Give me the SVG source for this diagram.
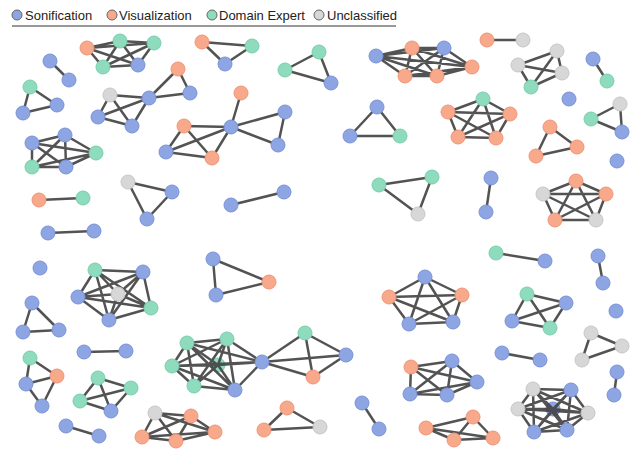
<svg xmlns="http://www.w3.org/2000/svg" width="633" height="452" viewBox="0 0 633 452">
<style>
.s{fill:#8da5e3;stroke:#7a93d6;stroke-width:1}
.v{fill:#f9a98b;stroke:#ee9677;stroke-width:1}
.d{fill:#8edbbd;stroke:#78cfae;stroke-width:1}
.u{fill:#d7d7d7;stroke:#c6c6c6;stroke-width:1}
.e{stroke:#444;stroke-width:2.5;fill:none;stroke-opacity:0.92}
.lg circle{stroke:#666;stroke-width:1}
.lg text{font-family:"Liberation Sans",Arial,sans-serif;font-size:13px;fill:#222}
</style>
<g id="legend" class="lg">
<circle cx="17" cy="15" r="5" class="s" style="stroke:#666"/>
<text x="25" y="20">Sonification</text>
<circle cx="112" cy="15" r="5" class="v" style="stroke:#666"/>
<text x="119" y="20">Visualization</text>
<circle cx="212" cy="15" r="5" class="d" style="stroke:#666"/>
<text x="219" y="20">Domain Expert</text>
<circle cx="319" cy="15" r="5" class="u" style="stroke:#666"/>
<text x="327" y="20">Unclassified</text>
<line x1="12" y1="26" x2="396" y2="26" stroke="#999" stroke-width="2"/>
</g>
<g id="n-back1"><circle class="s" cx="553" cy="409" r="7"/></g>
<g id="n-back2"><circle class="d" cx="218" cy="365" r="7"/></g>
<g id="connectors" class="e">
<path d="M87 48L120 41M87 48L154 43M87 48L103 67M87 48L138 65M120 41L154 43M120 41L103 67M120 41L138 65M154 43L103 67M154 43L138 65M103 67L138 65"/>
<path d="M50 61L69 80"/>
<path d="M30 87L57 105M30 87L23 113M23 113L57 105"/>
<path d="M110 95L149 98M110 95L98 117M110 95L132 126M98 117L149 98M98 117L132 126M132 126L149 98M149 98L178 69M149 98L190 93M178 69L190 93"/>
<path d="M202 42L252 46M202 42L225 64M225 64L252 46"/>
<path d="M285 70L319 52M285 70L331 83M319 52L331 83"/>
<path d="M231 127L241 93M231 127L184 126M231 127L285 112M231 127L278 145M285 112L278 145M231 127L166 152M231 127L212 158M184 126L166 152M184 126L212 158M166 152L212 158"/>
<path d="M376 56L412 48M376 56L444 48M376 56L405 76M376 56L437 76M376 56L472 67M412 48L444 48M412 48L405 76M412 48L437 76M412 48L472 67M444 48L405 76M444 48L437 76M444 48L472 67M405 76L437 76M405 76L472 67M437 76L472 67"/>
<path d="M487 40L523 40"/>
<path d="M518 65L557 51M518 65L562 73M518 65L531 87M557 51L562 73M557 51L531 87M562 73L531 87"/>
<path d="M593 59L607 81"/>
<path d="M591 119L620 104M591 119L622 132M620 104L622 132"/>
<path d="M377 107L350 136M377 107L400 136M350 136L400 136"/>
<path d="M483 99L448 112M483 99L510 114M483 99L458 137M483 99L496 138M448 112L510 114M448 112L458 137M448 112L496 138M510 114L458 137M510 114L496 138M458 137L496 138"/>
<path d="M550 127L536 156M550 127L577 147M536 156L577 147"/>
<path d="M32 143L65 135M32 143L96 153M32 143L32 167M32 143L66 167M65 135L96 153M65 135L32 167M65 135L66 167M96 153L32 167M96 153L66 167M32 167L66 167"/>
<path d="M39 200L83 198"/>
<path d="M48 233L94 231"/>
<path d="M128 182L172 192M128 182L147 219M147 219L172 192"/>
<path d="M231 205L284 192"/>
<path d="M379 185L432 177M379 185L418 214M432 177L418 214"/>
<path d="M491 178L486 212"/>
<path d="M576 181L543 194M576 181L606 194M576 181L555 220M576 181L596 220M543 194L606 194M543 194L555 220M543 194L596 220M606 194L555 220M606 194L596 220M555 220L596 220"/>
<path d="M496 253L545 261"/>
<path d="M598 256L603 283"/>
<path d="M213 259L269 282M213 259L216 295M216 295L269 282"/>
<path d="M95 270L143 272M95 270L78 297M95 270L118 294M95 270L109 320M95 270L151 308M143 272L78 297M143 272L118 294M143 272L109 320M143 272L151 308M78 297L118 294M78 297L109 320M78 297L151 308M118 294L109 320M118 294L151 308M109 320L151 308"/>
<path d="M32 303L23 332M32 303L59 330M23 332L59 330"/>
<path d="M84 352L126 351"/>
<path d="M30 358L57 376M30 358L26 384M26 384L57 376M26 384L42 406M42 406L57 376"/>
<path d="M98 378L131 388M98 378L80 401M98 378L111 411M131 388L80 401M131 388L111 411M80 401L111 411"/>
<path d="M66 426L99 436"/>
<path d="M187 343L227 339M187 343L172 366M187 343L218 365M187 343L194 386M187 343L235 390M227 339L172 366M227 339L218 365M227 339L194 386M227 339L235 390M172 366L218 365M172 366L194 386M172 366L235 390M218 365L194 386M218 365L235 390M194 386L235 390M262 362L187 343M262 362L227 339M262 362L172 366M262 362L218 365M262 362L235 390"/>
<path d="M262 362L305 333M262 362L313 377M262 362L346 355M305 333L313 377M305 333L346 355M313 377L346 355"/>
<path d="M155 413L191 416M155 413L142 437M155 413L176 441M155 413L215 432M191 416L142 437M191 416L176 441M191 416L215 432M142 437L176 441M142 437L215 432M176 441L215 432"/>
<path d="M287 408L264 430M287 408L320 427M264 430L320 427"/>
<path d="M362 403L379 429"/>
<path d="M425 277L389 297M425 277L462 295M425 277L409 324M425 277L453 322M389 297L462 295M389 297L409 324M389 297L453 322M462 295L409 324M462 295L453 322M409 324L453 322"/>
<path d="M411 367L452 361M411 367L477 382M411 367L410 394M411 367L447 395M452 361L477 382M452 361L410 394M452 361L447 395M477 382L410 394M477 382L447 395M410 394L447 395"/>
<path d="M426 428L473 417M426 428L454 440M426 428L493 438M473 417L454 440M473 417L493 438M454 440L493 438"/>
<path d="M527 294L566 303M527 294L512 321M527 294L550 328M566 303L512 321M566 303L550 328M512 321L550 328"/>
<path d="M502 353L540 360"/>
<path d="M591 333L622 346M591 333L582 360M622 346L582 360"/>
<path d="M617 372L614 395"/>
<path d="M533 389L571 390M533 389L518 409M533 389L553 409M533 389L588 413M533 389L534 432M533 389L567 430M571 390L518 409M571 390L553 409M571 390L588 413M571 390L534 432M571 390L567 430M518 409L553 409M518 409L588 413M518 409L534 432M518 409L567 430M553 409L588 413M553 409L534 432M553 409L567 430M588 413L534 432M588 413L567 430M534 432L567 430"/>
</g>
<g id="n1"><circle class="v" cx="87" cy="48" r="7"/></g>
<g id="n2"><circle class="d" cx="120" cy="41" r="7"/></g>
<g id="n3"><circle class="d" cx="154" cy="43" r="7"/></g>
<g id="n4"><circle class="d" cx="103" cy="67" r="7"/></g>
<g id="n5"><circle class="s" cx="138" cy="65" r="7"/></g>
<g id="n6"><circle class="s" cx="50" cy="61" r="7"/></g>
<g id="n7"><circle class="s" cx="69" cy="80" r="7"/></g>
<g id="n8"><circle class="d" cx="30" cy="87" r="7"/></g>
<g id="n9"><circle class="s" cx="57" cy="105" r="7"/></g>
<g id="n10"><circle class="s" cx="23" cy="113" r="7"/></g>
<g id="n11"><circle class="u" cx="110" cy="95" r="7"/></g>
<g id="n12"><circle class="s" cx="149" cy="98" r="7"/></g>
<g id="n13"><circle class="s" cx="98" cy="117" r="7"/></g>
<g id="n14"><circle class="s" cx="132" cy="126" r="7"/></g>
<g id="n15"><circle class="v" cx="178" cy="69" r="7"/></g>
<g id="n16"><circle class="s" cx="190" cy="93" r="7"/></g>
<g id="n17"><circle class="v" cx="202" cy="42" r="7"/></g>
<g id="n18"><circle class="d" cx="252" cy="46" r="7"/></g>
<g id="n19"><circle class="s" cx="225" cy="64" r="7"/></g>
<g id="n20"><circle class="d" cx="285" cy="70" r="7"/></g>
<g id="n21"><circle class="d" cx="319" cy="52" r="7"/></g>
<g id="n22"><circle class="s" cx="331" cy="83" r="7"/></g>
<g id="n23"><circle class="s" cx="231" cy="127" r="7"/></g>
<g id="n24"><circle class="v" cx="241" cy="93" r="7"/></g>
<g id="n25"><circle class="v" cx="184" cy="126" r="7"/></g>
<g id="n26"><circle class="s" cx="166" cy="152" r="7"/></g>
<g id="n27"><circle class="v" cx="212" cy="158" r="7"/></g>
<g id="n28"><circle class="s" cx="285" cy="112" r="7"/></g>
<g id="n29"><circle class="s" cx="278" cy="145" r="7"/></g>
<g id="n30"><circle class="s" cx="376" cy="56" r="7"/></g>
<g id="n31"><circle class="v" cx="412" cy="48" r="7"/></g>
<g id="n32"><circle class="s" cx="444" cy="48" r="7"/></g>
<g id="n33"><circle class="v" cx="405" cy="76" r="7"/></g>
<g id="n34"><circle class="v" cx="437" cy="76" r="7"/></g>
<g id="n35"><circle class="v" cx="472" cy="67" r="7"/></g>
<g id="n36"><circle class="v" cx="487" cy="40" r="7"/></g>
<g id="n37"><circle class="u" cx="523" cy="40" r="7"/></g>
<g id="n38"><circle class="u" cx="518" cy="65" r="7"/></g>
<g id="n39"><circle class="u" cx="557" cy="51" r="7"/></g>
<g id="n40"><circle class="u" cx="562" cy="73" r="7"/></g>
<g id="n41"><circle class="d" cx="531" cy="87" r="7"/></g>
<g id="n42"><circle class="s" cx="593" cy="59" r="7"/></g>
<g id="n43"><circle class="d" cx="607" cy="81" r="7"/></g>
<g id="n44"><circle class="s" cx="569" cy="99" r="7"/></g>
<g id="n45"><circle class="d" cx="591" cy="119" r="7"/></g>
<g id="n46"><circle class="u" cx="620" cy="104" r="7"/></g>
<g id="n47"><circle class="s" cx="622" cy="132" r="7"/></g>
<g id="n48"><circle class="s" cx="377" cy="107" r="7"/></g>
<g id="n49"><circle class="s" cx="350" cy="136" r="7"/></g>
<g id="n50"><circle class="d" cx="400" cy="136" r="7"/></g>
<g id="n51"><circle class="d" cx="483" cy="99" r="7"/></g>
<g id="n52"><circle class="v" cx="448" cy="112" r="7"/></g>
<g id="n53"><circle class="v" cx="510" cy="114" r="7"/></g>
<g id="n54"><circle class="v" cx="458" cy="137" r="7"/></g>
<g id="n55"><circle class="v" cx="496" cy="138" r="7"/></g>
<g id="n56"><circle class="v" cx="550" cy="127" r="7"/></g>
<g id="n57"><circle class="v" cx="536" cy="156" r="7"/></g>
<g id="n58"><circle class="v" cx="577" cy="147" r="7"/></g>
<g id="n59"><circle class="s" cx="617" cy="161" r="7"/></g>
<g id="n60"><circle class="s" cx="32" cy="143" r="7"/></g>
<g id="n61"><circle class="s" cx="65" cy="135" r="7"/></g>
<g id="n62"><circle class="d" cx="96" cy="153" r="7"/></g>
<g id="n63"><circle class="d" cx="32" cy="167" r="7"/></g>
<g id="n64"><circle class="s" cx="66" cy="167" r="7"/></g>
<g id="n65"><circle class="v" cx="39" cy="200" r="7"/></g>
<g id="n66"><circle class="d" cx="83" cy="198" r="7"/></g>
<g id="n67"><circle class="s" cx="48" cy="233" r="7"/></g>
<g id="n68"><circle class="s" cx="94" cy="231" r="7"/></g>
<g id="n69"><circle class="s" cx="40" cy="268" r="7"/></g>
<g id="n70"><circle class="u" cx="128" cy="182" r="7"/></g>
<g id="n71"><circle class="s" cx="172" cy="192" r="7"/></g>
<g id="n72"><circle class="s" cx="147" cy="219" r="7"/></g>
<g id="n73"><circle class="s" cx="231" cy="205" r="7"/></g>
<g id="n74"><circle class="s" cx="284" cy="192" r="7"/></g>
<g id="n75"><circle class="d" cx="379" cy="185" r="7"/></g>
<g id="n76"><circle class="d" cx="432" cy="177" r="7"/></g>
<g id="n77"><circle class="u" cx="418" cy="214" r="7"/></g>
<g id="n78"><circle class="s" cx="491" cy="178" r="7"/></g>
<g id="n79"><circle class="s" cx="486" cy="212" r="7"/></g>
<g id="n80"><circle class="v" cx="576" cy="181" r="7"/></g>
<g id="n81"><circle class="u" cx="543" cy="194" r="7"/></g>
<g id="n82"><circle class="v" cx="606" cy="194" r="7"/></g>
<g id="n83"><circle class="v" cx="555" cy="220" r="7"/></g>
<g id="n84"><circle class="u" cx="596" cy="220" r="7"/></g>
<g id="n85"><circle class="d" cx="496" cy="253" r="7"/></g>
<g id="n86"><circle class="s" cx="545" cy="261" r="7"/></g>
<g id="n87"><circle class="s" cx="598" cy="256" r="7"/></g>
<g id="n88"><circle class="s" cx="603" cy="283" r="7"/></g>
<g id="n89"><circle class="s" cx="616" cy="311" r="7"/></g>
<g id="n90"><circle class="s" cx="213" cy="259" r="7"/></g>
<g id="n91"><circle class="v" cx="269" cy="282" r="7"/></g>
<g id="n92"><circle class="s" cx="216" cy="295" r="7"/></g>
<g id="n93"><circle class="d" cx="95" cy="270" r="7"/></g>
<g id="n94"><circle class="s" cx="143" cy="272" r="7"/></g>
<g id="n95"><circle class="s" cx="78" cy="297" r="7"/></g>
<g id="n96"><circle class="u" cx="118" cy="294" r="7"/></g>
<g id="n97"><circle class="s" cx="109" cy="320" r="7"/></g>
<g id="n98"><circle class="d" cx="151" cy="308" r="7"/></g>
<g id="n99"><circle class="s" cx="32" cy="303" r="7"/></g>
<g id="n100"><circle class="s" cx="23" cy="332" r="7"/></g>
<g id="n101"><circle class="s" cx="59" cy="330" r="7"/></g>
<g id="n102"><circle class="s" cx="84" cy="352" r="7"/></g>
<g id="n103"><circle class="s" cx="126" cy="351" r="7"/></g>
<g id="n104"><circle class="d" cx="30" cy="358" r="7"/></g>
<g id="n105"><circle class="v" cx="57" cy="376" r="7"/></g>
<g id="n106"><circle class="s" cx="26" cy="384" r="7"/></g>
<g id="n107"><circle class="s" cx="42" cy="406" r="7"/></g>
<g id="n108"><circle class="d" cx="98" cy="378" r="7"/></g>
<g id="n109"><circle class="d" cx="131" cy="388" r="7"/></g>
<g id="n110"><circle class="d" cx="80" cy="401" r="7"/></g>
<g id="n111"><circle class="s" cx="111" cy="411" r="7"/></g>
<g id="n112"><circle class="s" cx="66" cy="426" r="7"/></g>
<g id="n113"><circle class="s" cx="99" cy="436" r="7"/></g>
<g id="n114"><circle class="d" cx="187" cy="343" r="7"/></g>
<g id="n115"><circle class="d" cx="227" cy="339" r="7"/></g>
<g id="n116"><circle class="d" cx="172" cy="366" r="7"/></g>
<g id="n117"><circle class="d" cx="194" cy="386" r="7"/></g>
<g id="n118"><circle class="s" cx="235" cy="390" r="7"/></g>
<g id="n119"><circle class="s" cx="262" cy="362" r="7"/></g>
<g id="n120"><circle class="d" cx="305" cy="333" r="7"/></g>
<g id="n121"><circle class="v" cx="313" cy="377" r="7"/></g>
<g id="n122"><circle class="s" cx="346" cy="355" r="7"/></g>
<g id="n123"><circle class="u" cx="155" cy="413" r="7"/></g>
<g id="n124"><circle class="v" cx="191" cy="416" r="7"/></g>
<g id="n125"><circle class="v" cx="142" cy="437" r="7"/></g>
<g id="n126"><circle class="v" cx="176" cy="441" r="7"/></g>
<g id="n127"><circle class="v" cx="215" cy="432" r="7"/></g>
<g id="n128"><circle class="v" cx="287" cy="408" r="7"/></g>
<g id="n129"><circle class="v" cx="264" cy="430" r="7"/></g>
<g id="n130"><circle class="u" cx="320" cy="427" r="7"/></g>
<g id="n131"><circle class="s" cx="362" cy="403" r="7"/></g>
<g id="n132"><circle class="s" cx="379" cy="429" r="7"/></g>
<g id="n133"><circle class="s" cx="425" cy="277" r="7"/></g>
<g id="n134"><circle class="v" cx="389" cy="297" r="7"/></g>
<g id="n135"><circle class="v" cx="462" cy="295" r="7"/></g>
<g id="n136"><circle class="s" cx="409" cy="324" r="7"/></g>
<g id="n137"><circle class="s" cx="453" cy="322" r="7"/></g>
<g id="n138"><circle class="v" cx="411" cy="367" r="7"/></g>
<g id="n139"><circle class="s" cx="452" cy="361" r="7"/></g>
<g id="n140"><circle class="s" cx="477" cy="382" r="7"/></g>
<g id="n141"><circle class="s" cx="410" cy="394" r="7"/></g>
<g id="n142"><circle class="s" cx="447" cy="395" r="7"/></g>
<g id="n143"><circle class="v" cx="426" cy="428" r="7"/></g>
<g id="n144"><circle class="v" cx="473" cy="417" r="7"/></g>
<g id="n145"><circle class="v" cx="454" cy="440" r="7"/></g>
<g id="n146"><circle class="v" cx="493" cy="438" r="7"/></g>
<g id="n147"><circle class="d" cx="527" cy="294" r="7"/></g>
<g id="n148"><circle class="s" cx="566" cy="303" r="7"/></g>
<g id="n149"><circle class="s" cx="512" cy="321" r="7"/></g>
<g id="n150"><circle class="d" cx="550" cy="328" r="7"/></g>
<g id="n151"><circle class="s" cx="502" cy="353" r="7"/></g>
<g id="n152"><circle class="s" cx="540" cy="360" r="7"/></g>
<g id="n153"><circle class="u" cx="591" cy="333" r="7"/></g>
<g id="n154"><circle class="u" cx="622" cy="346" r="7"/></g>
<g id="n155"><circle class="u" cx="582" cy="360" r="7"/></g>
<g id="n156"><circle class="s" cx="617" cy="372" r="7"/></g>
<g id="n157"><circle class="s" cx="614" cy="395" r="7"/></g>
<g id="n158"><circle class="u" cx="533" cy="389" r="7"/></g>
<g id="n159"><circle class="s" cx="571" cy="390" r="7"/></g>
<g id="n160"><circle class="u" cx="518" cy="409" r="7"/></g>
<g id="n161"><circle class="u" cx="588" cy="413" r="7"/></g>
<g id="n162"><circle class="s" cx="534" cy="432" r="7"/></g>
<g id="n163"><circle class="s" cx="567" cy="430" r="7"/></g>
</svg>
